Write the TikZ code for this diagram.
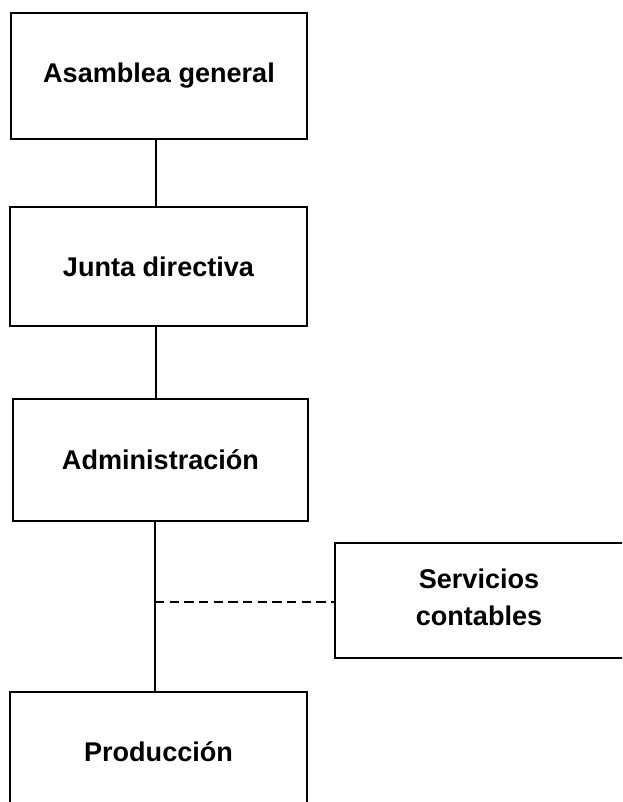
\documentclass[tikz,border=0pt]{standalone}
\usepackage{fontspec}
\setmainfont{Liberation Sans}
\usepackage{tikz}

\begin{document}
\begin{tikzpicture}[x=0.75pt,y=0.75pt,yscale=-1,xscale=1,
    orgbox/.style={draw=black, line width=1.1pt, inner sep=0.75pt, align=center, font=\fontsize{20.3}{27.5}\selectfont\bfseries},
    link/.style={draw=black, line width=0.8pt}]
    \useasboundingbox (0,0) rectangle (622,802);
    \clip (0,0) rectangle (622,802);

    %Shape: Rectangle [id:asamblea]
    \node [orgbox, minimum width=222pt, minimum height=94.5pt] (asamblea) at (159,76) {Asamblea general};
    %Shape: Rectangle [id:junta]
    \node [orgbox, minimum width=222.75pt, minimum height=89.25pt] (junta) at (158.5,266.5) {Junta directiva};
    %Shape: Rectangle [id:admin]
    \node [orgbox, minimum width=221.25pt, minimum height=91.5pt] (admin) at (160.5,460) {Administración};
    %Shape: Rectangle [id:servicios]
    \node [orgbox, minimum width=222pt, minimum height=86.25pt] (servicios) at (483,600.5) {};
    \node [font=\fontsize{20.3}{27.5}\selectfont\bfseries, align=center, inner sep=0.75pt] (servtxt) at (479,597) {Servicios\\contables};
    %Shape: Rectangle [id:produccion]
    \node [orgbox, minimum width=222.75pt, minimum height=90pt] (produccion) at (158.5,752) {Producción};

    %Straight Lines
    \coordinate (spine) at (156,0);
    \coordinate (tap) at (155,602);
    \draw [link] (asamblea.south -| spine) -- (junta.north -| spine);
    \draw [link] (junta.south -| spine) -- (admin.north -| spine);
    \draw [link] (admin.south -| tap) -- (produccion.north -| tap);
    \draw [link, dash pattern=on 7pt off 4pt] (tap) -- (servicios.west |- tap);

\end{tikzpicture}
\end{document}
